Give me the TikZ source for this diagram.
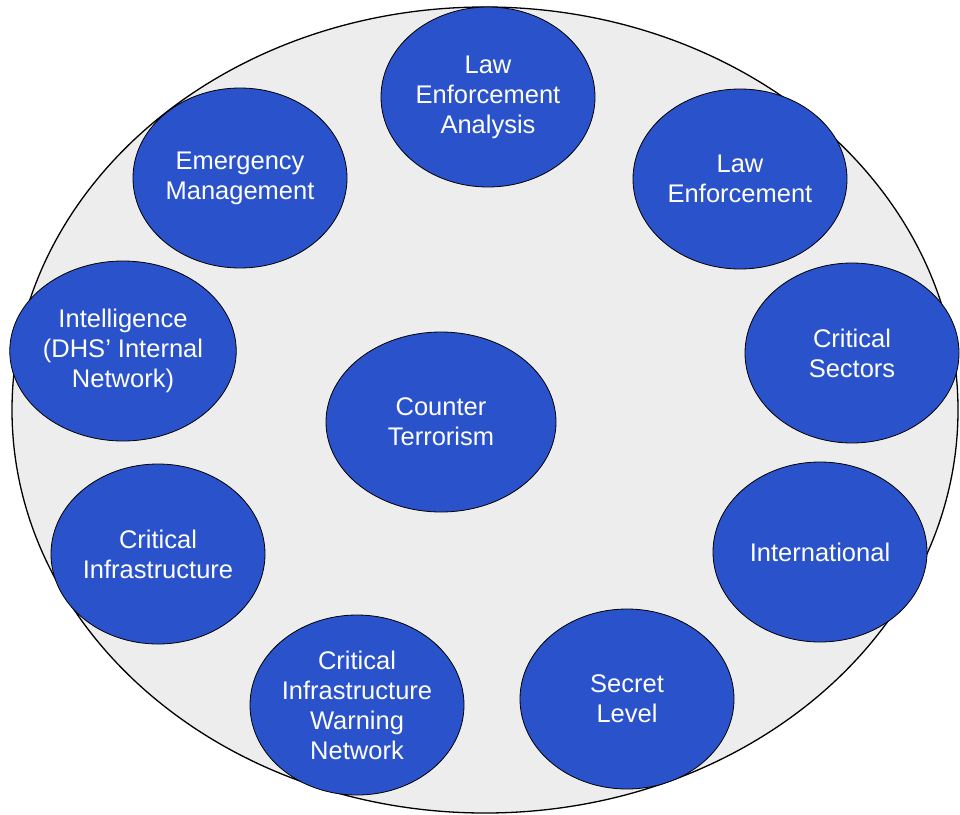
\documentclass[tikz,border=0pt]{standalone}
\usepackage{fontspec}
\setmainfont{Liberation Sans}
\usetikzlibrary{shapes.geometric}
\definecolor{blobblue}{RGB}{42,82,202}
\definecolor{panelgray}{RGB}{237,237,237}
\begin{document}
\begin{tikzpicture}[x=1pt,y=-1pt,
  blob/.style={ellipse, draw=black, line width=0.8pt, fill=blobblue, text=white,
    minimum width=214pt, minimum height=180pt, inner sep=0pt, align=center,
    font=\fontsize{25.5}{30}\selectfont},
  outer/.style={ellipse, draw=black, line width=1.3pt, fill=panelgray,
    minimum width=946pt, minimum height=806pt, inner sep=0pt}]
\useasboundingbox[fill=white] (0,0) rectangle (960,814);
\node[outer] (frame) at (485,410) {};
\node[blob] (lea) at (488,97) {Law\\Enforcement\\Analysis};
\node[blob] (em) at (240,178) {Emergency\\Management};
\node[blob] (le) at (740,179) {Law\\Enforcement};
\node[blob] (intel) at (123,351) {Intelligence\\(DHS’ Internal\\Network)};
\node[blob] (cs) at (852,353) {Critical\\Sectors};
\node[blob, minimum width=230pt] (ct) at (441,422) {Counter\\Terrorism};
\node[blob] (ci) at (158,554) {Critical\\Infrastructure};
\node[blob] (intl) at (820,552) {International};
\node[blob] (ciwn) at (357,705) {Critical\\Infrastructure\\Warning\\Network};
\node[blob] (sl) at (627,699) {Secret\\Level};
\end{tikzpicture}
\end{document}
